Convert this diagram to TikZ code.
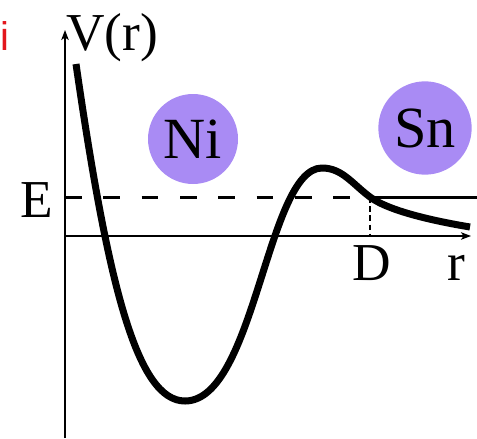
\documentclass[tikz,border=0pt]{standalone}
\usepackage{fontspec}
\setmainfont{Liberation Serif}
\newfontfamily\labelsans{Liberation Sans}
\usetikzlibrary{arrows.meta, positioning}
\definecolor{atomFill}{HTML}{A98BF4}
\definecolor{markRed}{HTML}{E3161C}

\begin{document}
\begin{tikzpicture}[x=0.6pt, y=-0.6pt,
    axis/.style={line width=0.9pt, -{Stealth[length=6pt, width=4.5pt, inset=1.5pt]}},
    atom/.style={circle, fill=atomFill, minimum size=54pt, inner sep=0pt,
                 font=\fontsize{35}{38}\selectfont},
    lbl/.style={inner sep=0pt, font=\fontsize{32}{36}\selectfont},
    potential/.style={line width=4.2pt, line join=round},
    level/.style={line width=1.8pt},
  ]
    \useasboundingbox (0,0) rectangle (477,438);

    % points on the axes
    \coordinate (O) at (65,236);
    \coordinate (ytop) at (65,30);
    \coordinate (ybot) at (65,438);
    \coordinate (xend) at (471,236);
    \coordinate (Eleft) at (65,197);
    \coordinate (Dpt) at (370,197);
    \coordinate (Dfoot) at (370,236);
    \coordinate (Eright) at (477,197);

    % points on the curve
    \coordinate (vstart) at (76,64);
    \coordinate (vmin) at (185,401);
    \coordinate (vmax) at (322,168);
    \coordinate (vend) at (470,227);

    % atoms
    \node[atom, minimum size=54pt] (ni) at (193,139) {Ni};
    \node[atom, minimum size=56pt] (sn) at (425,128) {Sn};

    % axes
    \draw[axis] (ybot) -- (ytop);
    \draw[axis] (O) -- (xend);

    % energy level
    \draw[level, dash pattern=on 10 off 13] (Eleft) -- (Dpt);
    \draw[level] (Dpt) -- (Eright);
    \draw[line width=0.9pt, dash pattern=on 3.5pt off 2pt] (Dpt) -- (Dfoot);

    % V(r)
    \draw[potential] (vstart)
      .. controls (108,285) and (137,401) .. (vmin)
      .. controls (255,401) and (267,168) .. (vmax)
      .. controls (342,168) and (352,183.5) .. (Dpt)
      .. controls (390,212) and (440,222) .. (vend);

    % labels
    \node[lbl, anchor=base west] (vr) at (66,50) {V(r)};
    \node[lbl, anchor=base] (elab) at (37,217) {E};
    \node[lbl, anchor=base] (dlab) at (372,280) {D};
    \node[lbl, anchor=base] (rlab) at (456,280) {r};
    \node[inner sep=0pt, anchor=base, text=markRed,
          font=\labelsans\fontsize{24}{26}\selectfont] (mark) at (5,50) {i};
  \end{tikzpicture}
\end{document}
